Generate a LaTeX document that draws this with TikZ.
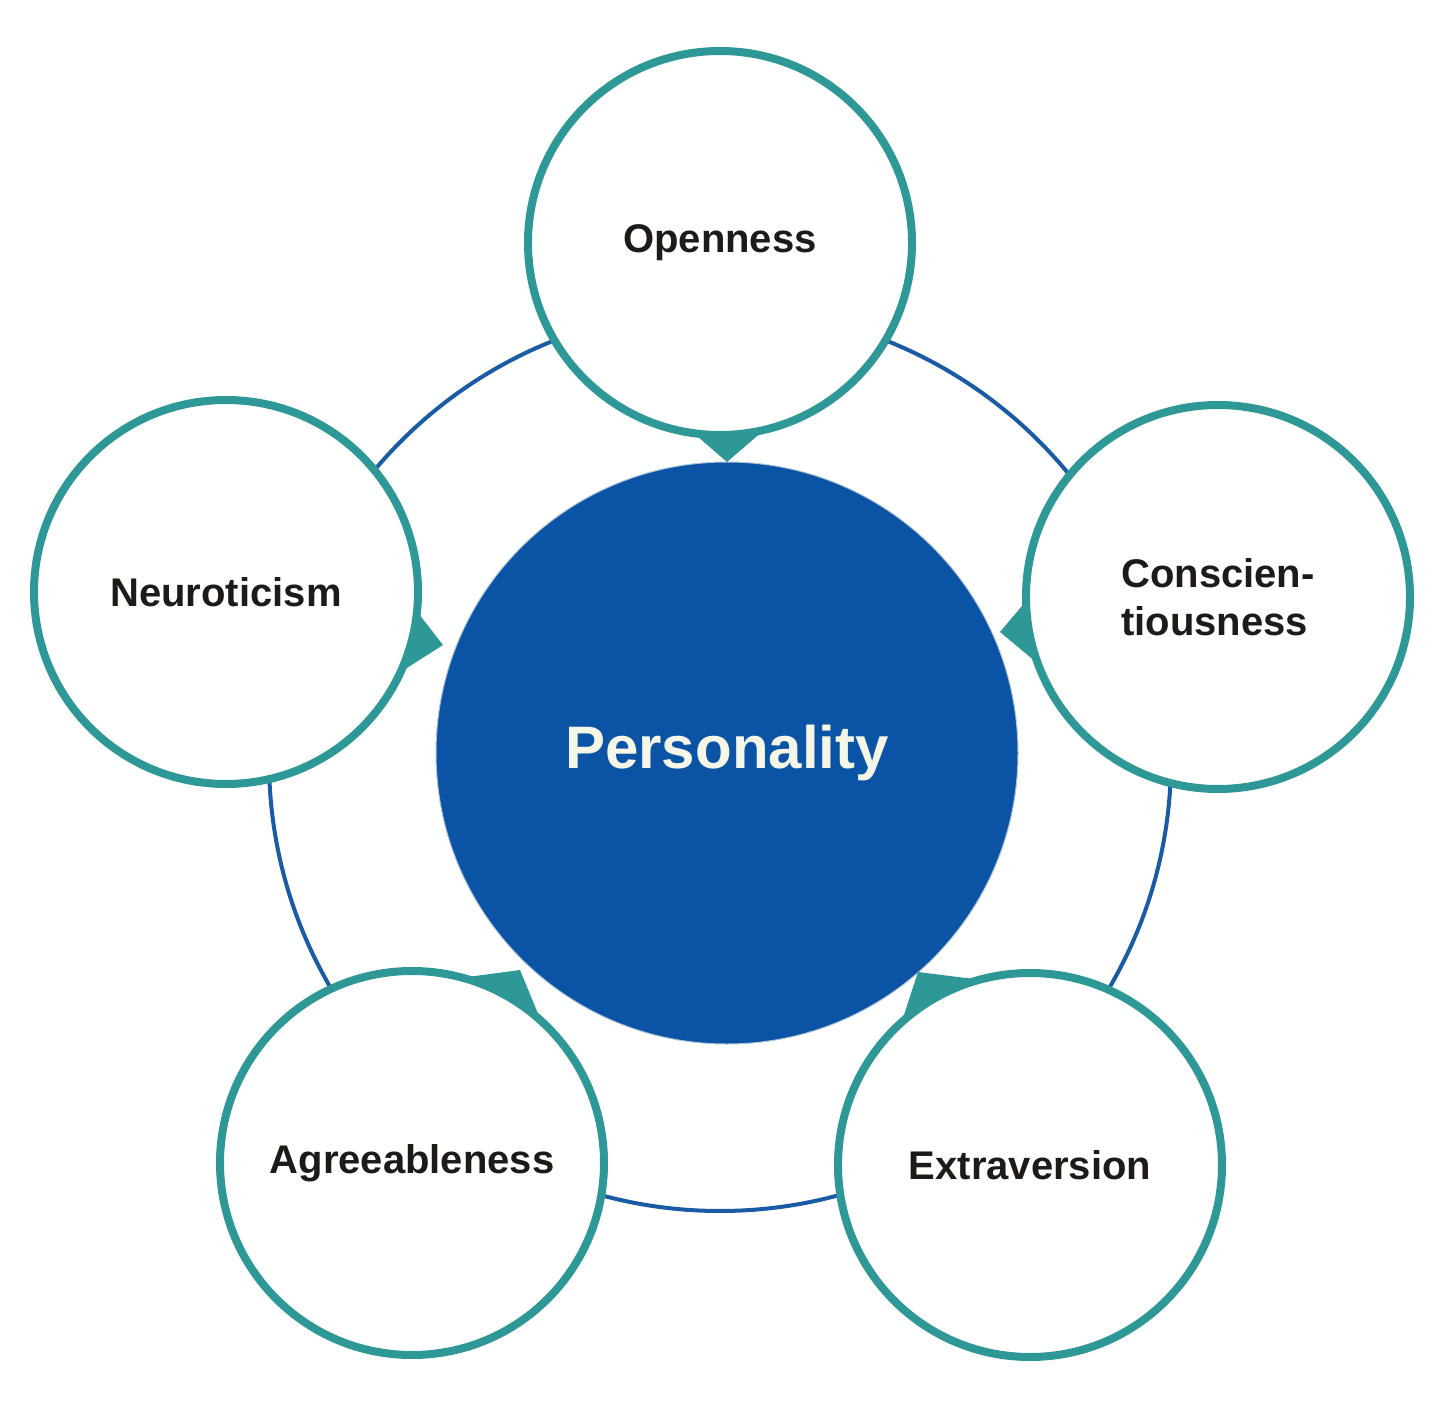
\documentclass[tikz,border=0pt]{standalone}
\usepackage{fontspec}
\setmainfont{Liberation Sans}
\definecolor{teal1}{HTML}{2E9896}
\definecolor{ringblue}{HTML}{1A5BA6}
\definecolor{coreblue}{HTML}{0B53A5}
\definecolor{txt}{HTML}{1E1A18}
\definecolor{cream}{HTML}{F4F6E8}
\begin{document}
\begin{tikzpicture}[x=1pt,y=-1pt,
  trait/.style={circle,draw=teal1,line width=8pt,fill=white,minimum size=384pt,inner sep=0pt,font=\fontsize{40}{48}\selectfont\bfseries,text=txt,align=left},
  tail/.style={fill=teal1,draw=none}]
\useasboundingbox (0,0) rectangle (1444,1404);
\fill[white] (0,0) rectangle (1444,1404);
\node[circle,draw=ringblue,line width=4pt,minimum size=902pt,inner sep=0pt] (ring) at (720,760) {};
\node[circle,fill=coreblue,draw=cream!70!coreblue,line width=1pt,minimum size=582pt,inner sep=0pt,text=cream,font=\fontsize{60}{70}\selectfont\bfseries] (core) at (727,753) {Personality};
\fill[tail] (690,430) -- (764,430) -- (727,462) -- cycle;
\fill[tail] (1027,600) -- (1036,662) -- (1000,632) -- cycle;
\fill[tail] (415,609) -- (399,673) -- (443,645) -- cycle;
\fill[tail] (460,978) -- (539,1016) -- (520,970) -- cycle;
\fill[tail] (982,980) -- (903,1018) -- (918,972) -- cycle;
\node[trait] (open) at (720,243) {Openness};
\node[trait] (cons) at (1218,597) {Conscien-\\tiousness};
\node[trait] (neur) at (226,592) {Neuroticism};
\node[trait] (agre) at (412,1163) {Agreeableness};
\node[trait] (extr) at (1030,1165) {Extraversion};
\end{tikzpicture}
\end{document}
